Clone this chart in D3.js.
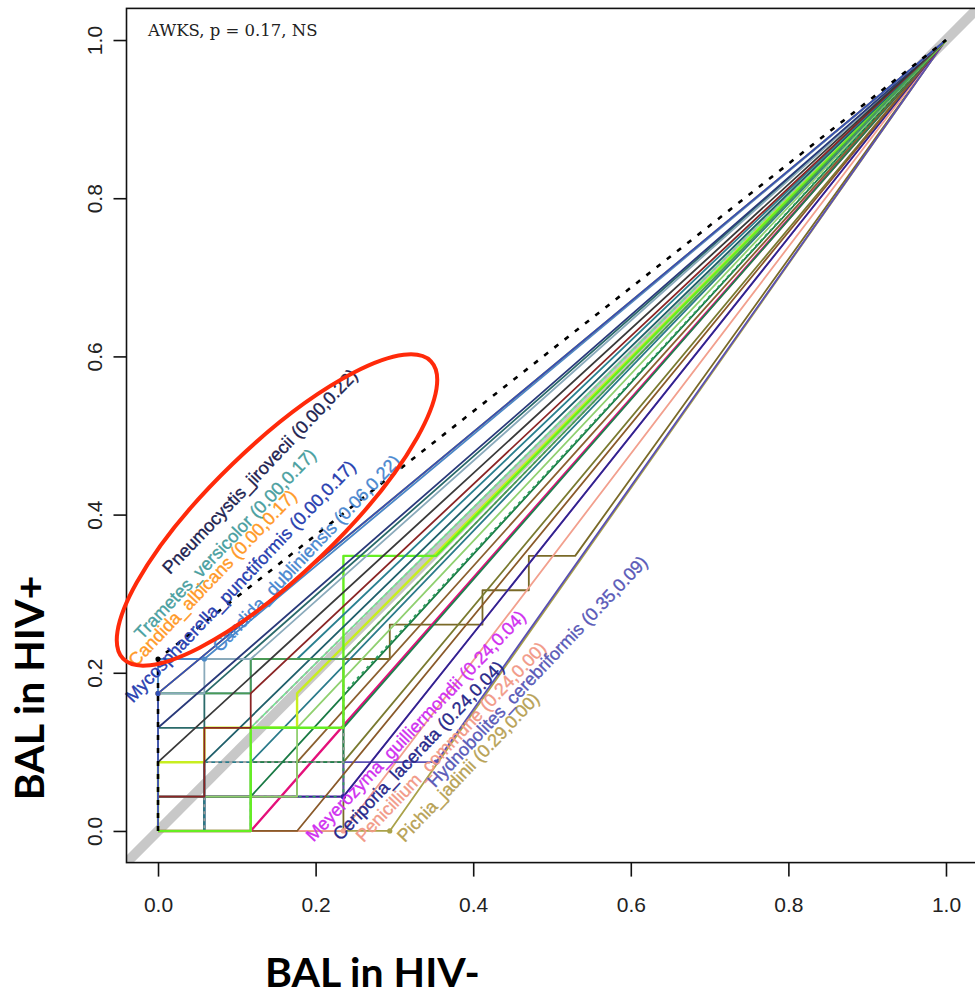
<!DOCTYPE html>
<html>
<head>
<meta charset="utf-8">
<script src="https://cdn.jsdelivr.net/npm/d3@7"></script>
<style>
  html, body { margin: 0; padding: 0; background: #fff; }
  svg { display: block; }
</style>
</head>
<body>
<svg id="chart" width="975" height="995"></svg>
<script>
// Sample counts in each group (one step per sample on the curve)
const nHIVneg = 17;
const nHIVpos = 23;

// Per-taxon ranked-abundance walks: R = HIV- sample, U = HIV+ sample.
// After the last non-zero sample the curve runs straight to (1,1).
const taxonLabels = [
  "", "", "Pichia_jadinii", "Penicillium_commune", "Hydnobolites_cerebriformis",
  "Meyerozyma_guilliermondii", "Ceriporia_lacerata", "", "", "",
  "", "", "", "", "",
  "", "", "", "", "",
  "", "", "", "", "",
  "", "", "", "Candida_dubliniensis", "Trametes_versicolor",
  "Candida_albicans", "Mycosphaerella_punctiformis", "Pneumocystis_jirovecii"
];
const rankSteps = [
  "RRRRUUUUURURRURUR", "RRUURR", "RRRRR", "RRRR", "RURRRURR",
  "URRRR", "RURRR", "RRR", "RR", "RRUURRU",
  "URRRU", "RUR", "RRURRUUU", "URRRUU", "RUUR",
  "RUURRRUUU", "RRUUU", "UURRU", "UURURRU", "RRUUURRUUUUURR",
  "UUURU", "URU", "UUUURRUR", "UUUURRURR", "URUURU",
  "UUUURUR", "UU", "UUU", "UUUUUR", "UUUU",
  "UUUU", "UUUU", "UUUUU"
];
const lineColors = [
  "#7a6a28", "#7a7a30", "#aaa24a", "#f2a08e", "#5a50b4",
  "#d23cf2", "#2a2a8a", "#8a5a2a", "#e4107a", "#1f8050",
  "#8b6030", "#1a7a45", "#30a060", "#90d070", "#2a7a8a",
  "#9a9a9a", "#70e890", "#aaaaaa", "#c8ee20", "#66ee22",
  "#2a6a6a", "#1f5f6a", "#2a8090", "#4a9a55", "#8b2525",
  "#8aaabb", "#3a3a3a", "#2a3a7a", "#4a88c8", "#5aa0a8",
  "#ff9a30", "#3050b8", "#000000"
];
const lineDashed = [
  0, 0, 0, 0, 0, 0, 0, 0, 0, 0,
  0, 0, 1, 0, 0, 1, 0, 1, 0, 0,
  0, 0, 0, 0, 0, 0, 0, 0, 0, 0,
  0, 0, 2
];
const labelColors = {
  "Pichia_jadinii": "#b8a256",
  "Penicillium_commune": "#f29a88",
  "Hydnobolites_cerebriformis": "#5a5ab8",
  "Meyerozyma_guilliermondii": "#d030f0",
  "Ceriporia_lacerata": "#28288a",
  "Candida_dubliniensis": "#4a88d0",
  "Trametes_versicolor": "#4aa0a0",
  "Candida_albicans": "#ff9a28",
  "Mycosphaerella_punctiformis": "#2840b0",
  "Pneumocystis_jirovecii": "#1e2350"
};

const tickValues = [0, 0.2, 0.4, 0.6, 0.8, 1.0];
const statText = "AWKS, p = 0.17, NS";
const xTitle = "BAL in HIV-";
const yTitle = "BAL in HIV+";

// ---- layout ----
const svg = d3.select("#chart");
const x = d3.scaleLinear().domain([-0.04, 1.04]).range([126.5, 977.5]);
const y = d3.scaleLinear().domain([-0.04, 1.04]).range([862.6, 8.4]);

// label placement relative to each labelled end point (pixels)
const labelNudge = {
  "Pichia_jadinii": [15, 12],
  "Penicillium_commune": [20, 12],
  "Hydnobolites_cerebriformis": [-1, 26],
  "Meyerozyma_guilliermondii": [-30, 46],
  "Ceriporia_lacerata": [-3, 45],
  "Candida_dubliniensis": [16, -6],
  "Trametes_versicolor": [-16, -53],
  "Candida_albicans": [-22, -26],
  "Mycosphaerella_punctiformis": [-25, 10],
  "Pneumocystis_jirovecii": [12, -84]
};

svg.append("defs").append("clipPath").attr("id", "plotClip")
  .append("rect")
  .attr("x", x(-0.04)).attr("y", y(1.04))
  .attr("width", x(1.04) - x(-0.04)).attr("height", y(-0.04) - y(1.04));

const plot = svg.append("g").attr("clip-path", "url(#plotClip)");

// identity reference
plot.append("line")
  .attr("x1", x(-0.04)).attr("y1", y(-0.04))
  .attr("x2", x(1.04)).attr("y2", y(1.04))
  .attr("stroke", "#c8c8c8").attr("stroke-width", 10);

// build curves
const curves = rankSteps.map((s, i) => {
  let a = 0, b = 0;
  const pts = [[0, 0]];
  for (const c of s) {
    if (c === "R") a += 1; else b += 1;
    pts.push([a / nHIVneg, b / nHIVpos]);
  }
  const end = [a / nHIVneg, b / nHIVpos];
  pts.push([1, 1]);
  return { name: taxonLabels[i], pts, end, color: lineColors[i], dash: lineDashed[i] };
});

const line = d3.line().x(d => x(d[0])).y(d => y(d[1]));
const thick = new Set(["#66ee22", "#e4107a", "#c8ee20"]);

plot.selectAll("path.curve").data(curves).join("path")
  .attr("class", "curve")
  .attr("d", d => line(d.pts))
  .attr("fill", "none")
  .attr("stroke", d => d.color)
  .attr("stroke-width", d => d.dash === 2 ? 2.6 : (thick.has(d.color) ? 2.4 : 1.8))
  .attr("stroke-linejoin", "round")
  .attr("stroke-dasharray", d => d.dash === 2 ? "5,8" : (d.dash === 1 ? "3,4" : null));

const labelled = curves.filter(d => d.name);

plot.selectAll("circle.end").data(labelled).join("circle")
  .attr("class", "end")
  .attr("cx", d => x(d.end[0])).attr("cy", d => y(d.end[1]))
  .attr("r", 2.6)
  .attr("fill", d => d.color);

// taxon labels
const fmt = d3.format(".2f");
svg.selectAll("text.taxon").data(labelled).join("text")
  .attr("class", "taxon")
  .attr("transform", d => {
    const nd = labelNudge[d.name];
    return `translate(${x(d.end[0]) + nd[0]},${y(d.end[1]) + nd[1]}) rotate(-46.5)`;
  })
  .attr("font-family", "'Liberation Sans', Arial, sans-serif")
  .attr("font-size", 18)
  .attr("fill", d => labelColors[d.name])
  .attr("stroke", d => labelColors[d.name])
  .attr("stroke-width", 0.35)
  .text(d => `${d.name} (${fmt(d.end[0])},${fmt(d.end[1])})`);

// frame
svg.append("rect")
  .attr("x", x(-0.04)).attr("y", y(1.04))
  .attr("width", x(1.04) - x(-0.04)).attr("height", y(-0.04) - y(1.04))
  .attr("fill", "none").attr("stroke", "#111").attr("stroke-width", 1.6);

// axes
const xAxis = svg.append("g")
  .attr("transform", `translate(0,${y(-0.04)})`)
  .call(d3.axisBottom(x).tickValues(tickValues).tickFormat(d3.format(".1f"))
    .tickSize(14).tickPadding(20).tickSizeOuter(0));
xAxis.select(".domain").remove();
xAxis.selectAll("line").attr("stroke", "#111").attr("stroke-width", 1.6);
xAxis.selectAll("text")
  .attr("font-family", "'Liberation Sans', Arial, sans-serif")
  .attr("font-size", 21).attr("fill", "#222");

const yAxis = svg.append("g")
  .attr("transform", `translate(${x(-0.04)},0)`)
  .call(d3.axisLeft(y).tickValues(tickValues).tickFormat(d3.format(".1f"))
    .tickSize(13).tickSizeOuter(0));
yAxis.select(".domain").remove();
yAxis.selectAll("line").attr("stroke", "#111").attr("stroke-width", 1.6);
yAxis.selectAll("text")
  .attr("x", 0).attr("dy", 0)
  .attr("transform", "translate(-25,0) rotate(-90)")
  .attr("text-anchor", "middle")
  .attr("font-family", "'Liberation Sans', Arial, sans-serif")
  .attr("font-size", 21).attr("fill", "#222");

// statistic note
svg.append("text")
  .attr("x", 148).attr("y", 36)
  .attr("font-family", "'DejaVu Serif', serif")
  .attr("font-size", 16.5).attr("fill", "#222")
  .text(statText);

// highlight ring around the HIV+-enriched taxa
svg.append("ellipse")
  .attr("cx", 277).attr("cy", 510)
  .attr("rx", 214).attr("ry", 64)
  .attr("transform", "rotate(-44,277,510)")
  .attr("fill", "none").attr("stroke", "#ff2a0a").attr("stroke-width", 4);

// axis titles
svg.append("text")
  .attr("x", 265).attr("y", 987)
  .attr("font-family", "Lato, 'Open Sans', sans-serif")
  .attr("font-weight", "bold").attr("font-size", 41).attr("fill", "#000")
  .text(xTitle);

svg.append("text")
  .attr("transform", "translate(44,688) rotate(-90)")
  .attr("text-anchor", "middle")
  .attr("font-family", "Lato, 'Open Sans', sans-serif")
  .attr("font-weight", "bold").attr("font-size", 41).attr("fill", "#000")
  .text(yTitle);
</script>
</body>
</html>
